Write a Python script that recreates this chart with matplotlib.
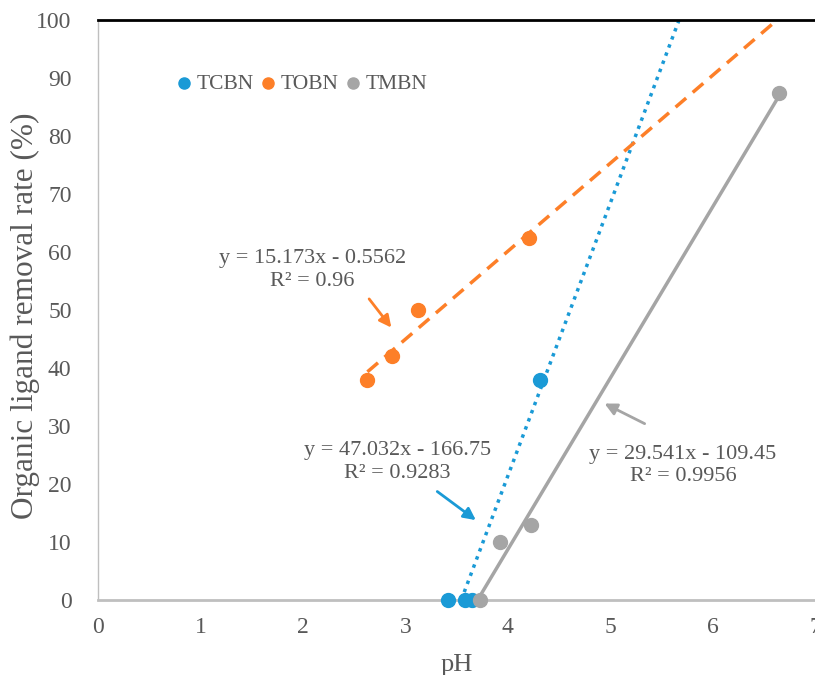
import numpy as np
import matplotlib.pyplot as plt

plt.rcParams['font.family'] = ['Liberation Serif', 'DejaVu Serif']

# measured points
tcbn_ph = [3.42, 3.58, 3.65, 4.31]
tcbn_rate = [0, 0, 0, 38]
tobn_ph = [2.63, 2.87, 3.12, 4.21]
tobn_rate = [38, 42, 50, 62.5]
tmbn_ph = [3.73, 3.92, 4.23, 6.65]
tmbn_rate = [0, 10, 13, 87.5]

# linear fits shown on the chart (slope, intercept, R2, x range of the line)
fits = {
    'TCBN': (47.032, -166.75, '0.9283', 3.545, 5.672),
    'TOBN': (15.173, -0.5562, '0.96', 2.63, 6.627),
    'TMBN': (29.541, -109.45, '0.9956', 3.73, 6.65),
}

blue = '#1a9ad6'
orange = '#fd7f28'
gray = '#a5a5a5'
txt = '#595959'

fig = plt.figure(figsize=(8.15, 6.75), dpi=100)
ax = fig.add_axes([0.1202, 0.111, 0.880, 0.8593])

ax.scatter(tcbn_ph, tcbn_rate, s=100, color=blue, zorder=3, label='TCBN', clip_on=False)
ax.scatter(tobn_ph, tobn_rate, s=100, color=orange, zorder=3, label='TOBN', clip_on=False)
ax.scatter(tmbn_ph, tmbn_rate, s=100, color=gray, zorder=3, label='TMBN', clip_on=False)

styles = {'TCBN': (blue, (0, (1, 1.5))), 'TOBN': (orange, (0, (4, 2.5))), 'TMBN': (gray, '-')}
for name, (a, b, r2, x0, x1) in fits.items():
    xs = np.array([x0, x1])
    col, ls = styles[name]
    ax.plot(xs, a * xs + b, color=col, linestyle=ls, lw=2.5, zorder=2)

ax.set_xlim(0, 7)
ax.set_ylim(0, 100)
ax.set_xticks(range(0, 8))
ax.set_yticks(range(0, 101, 10))
ax.tick_params(length=0, labelsize=17, colors=txt)
ax.tick_params(axis='x', pad=12)
ax.tick_params(axis='y', pad=19)

for s in ['left', 'bottom']:
    ax.spines[s].set_color('#bfbfbf')
ax.spines['left'].set_linewidth(1)
ax.spines['bottom'].set_linewidth(2)
ax.spines['top'].set_color('black')
ax.spines['top'].set_linewidth(2)
ax.spines['right'].set_visible(False)

ax.set_xlabel('pH', fontsize=19, color=txt, labelpad=12)
ax.set_ylabel('Organic ligand removal rate (%)', fontsize=22.5, color=txt, va='center')
ax.yaxis.set_label_coords(-0.102, 0.491)

leg = ax.legend(loc='center left', bbox_to_anchor=(0.075, 0.89), ncol=3, frameon=False,
                handletextpad=0.0, columnspacing=0.05, fontsize=15.5, markerscale=0.8,
                handlelength=1.2)
for t in leg.get_texts():
    t.set_color(txt)

ann = [
    ('TOBN', (2.09, 56.9), (2.63, 52.3), (2.88, 46.6), orange),
    ('TCBN', (2.92, 23.8), (3.29, 19.0), (3.71, 13.5), blue),
    ('TMBN', (5.71, 23.2), (5.36, 30.2), (4.92, 34.1), gray),
]
for name, tpos, a0, a1, col in ann:
    a, b, r2 = fits[name][:3]
    sign = '-' if b < 0 else '+'
    label = f'y = {a}x {sign} {abs(b)}\nR² = {r2}'
    ax.text(tpos[0], tpos[1], label, ha='center', va='center', fontsize=16,
            color=txt, linespacing=1.25)
    ax.annotate('', xy=a1, xytext=a0,
                arrowprops=dict(arrowstyle='-|>', color=col, lw=2, mutation_scale=18))

fig.savefig('out.png', dpi=100)
